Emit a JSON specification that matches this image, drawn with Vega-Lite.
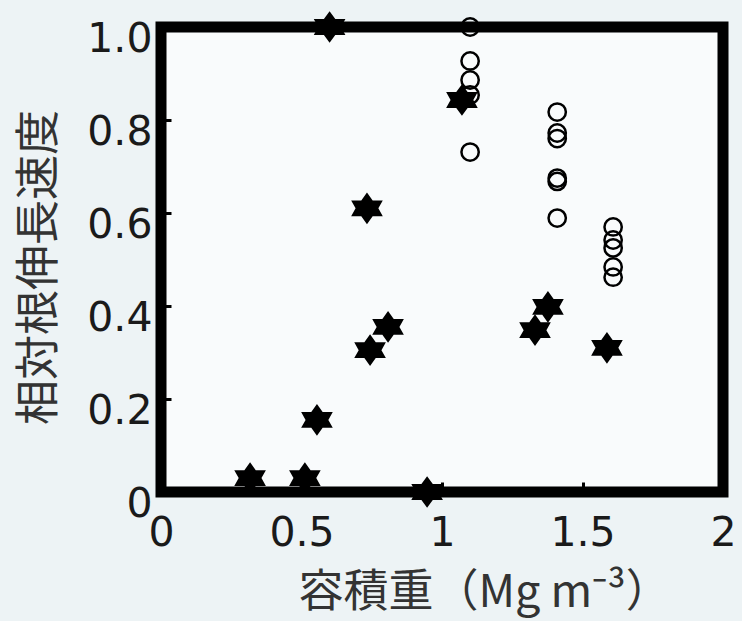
{
  "$schema": "https://vega.github.io/schema/vega-lite/v6.json",
  "width": 562,
  "height": 465,
  "autosize": {"type": "none"},
  "padding": {"left": 161, "top": 27, "right": 19, "bottom": 129},
  "background": "#edf3f5",
  "config": {
    "view": {"stroke": "black", "strokeWidth": 11, "fill": "#f9fbfc"},
    "axis": {
      "labelFont": "DejaVu Sans",
      "labelFontSize": 41,
      "labelColor": "#1a1a1a",
      "titleFont": "Noto Sans CJK JP",
      "titleFontWeight": "normal",
      "titleFontSize": 45,
      "titleColor": "#333333",
      "domain": false,
      "grid": false,
      "ticks": true,
      "tickColor": "black",
      "tickWidth": 3,
      "tickSize": -10
    }
  },
  "data": {
    "values": [
      {"density": 0.317, "rate": 0.03, "type": "star"},
      {"density": 0.512, "rate": 0.03, "type": "star"},
      {"density": 0.555, "rate": 0.155, "type": "star"},
      {"density": 0.60, "rate": 1.0, "type": "star"},
      {"density": 0.733, "rate": 0.61, "type": "star"},
      {"density": 0.744, "rate": 0.305, "type": "star"},
      {"density": 0.808, "rate": 0.355, "type": "star"},
      {"density": 0.947, "rate": 0.0, "type": "star"},
      {"density": 1.071, "rate": 0.843, "type": "star"},
      {"density": 1.331, "rate": 0.348, "type": "star"},
      {"density": 1.377, "rate": 0.398, "type": "star"},
      {"density": 1.587, "rate": 0.31, "type": "star"},
      {"density": 1.10, "rate": 1.0, "type": "circle"},
      {"density": 1.10, "rate": 0.927, "type": "circle"},
      {"density": 1.10, "rate": 0.886, "type": "circle"},
      {"density": 1.10, "rate": 0.854, "type": "circle"},
      {"density": 1.10, "rate": 0.731, "type": "circle"},
      {"density": 1.41, "rate": 0.817, "type": "circle"},
      {"density": 1.41, "rate": 0.772, "type": "circle"},
      {"density": 1.41, "rate": 0.76, "type": "circle"},
      {"density": 1.41, "rate": 0.675, "type": "circle"},
      {"density": 1.41, "rate": 0.668, "type": "circle"},
      {"density": 1.41, "rate": 0.589, "type": "circle"},
      {"density": 1.609, "rate": 0.57, "type": "circle"},
      {"density": 1.609, "rate": 0.542, "type": "circle"},
      {"density": 1.609, "rate": 0.525, "type": "circle"},
      {"density": 1.609, "rate": 0.484, "type": "circle"},
      {"density": 1.609, "rate": 0.462, "type": "circle"}
    ]
  },
  "encoding": {
    "x": {
      "field": "density",
      "type": "quantitative",
      "scale": {"domain": [0, 2], "nice": false, "zero": false},
      "axis": {
        "values": [0, 0.5, 1, 1.5, 2],
        "format": "~g",
        "labelPadding": 31,
        "labelFlush": false,
        "title": "容積重（Mg m⁻³）",
        "titleX": 137,
        "titleY": 100,
        "titleAlign": "left",
        "titleBaseline": "middle"
      }
    },
    "y": {
      "field": "rate",
      "type": "quantitative",
      "scale": {"domain": [0, 1], "nice": false},
      "axis": {
        "values": [0, 0.2, 0.4, 0.6, 0.8, 1.0],
        "labelExpr": "datum.value == 0 ? '0' : format(datum.value, '.1f')",
        "labelPadding": 19,
        "labelOffset": 12,
        "labelFlush": false,
        "title": "相対根伸長速度",
        "titleAngle": -90,
        "titleX": -122,
        "titleY": 240,
        "titleAlign": "center",
        "titleBaseline": "middle"
      }
    }
  },
  "layer": [
    {
      "transform": [{"filter": "datum.type == 'star'"}],
      "mark": {
        "type": "point",
        "shape": "M0,-1 L0.36,-0.5 L1,-0.5 L0.72,0 L1,0.5 L0.36,0.5 L0,1 L-0.36,0.5 L-1,0.5 L-0.72,0 L-1,-0.5 L-0.36,-0.5 Z",
        "filled": true,
        "color": "black",
        "opacity": 1,
        "size": 1000,
        "clip": false
      }
    },
    {
      "transform": [{"filter": "datum.type == 'circle'"}],
      "mark": {
        "type": "point",
        "shape": "circle",
        "filled": false,
        "stroke": "black",
        "strokeWidth": 2.5,
        "opacity": 1,
        "size": 300,
        "clip": false
      }
    }
  ]
}
